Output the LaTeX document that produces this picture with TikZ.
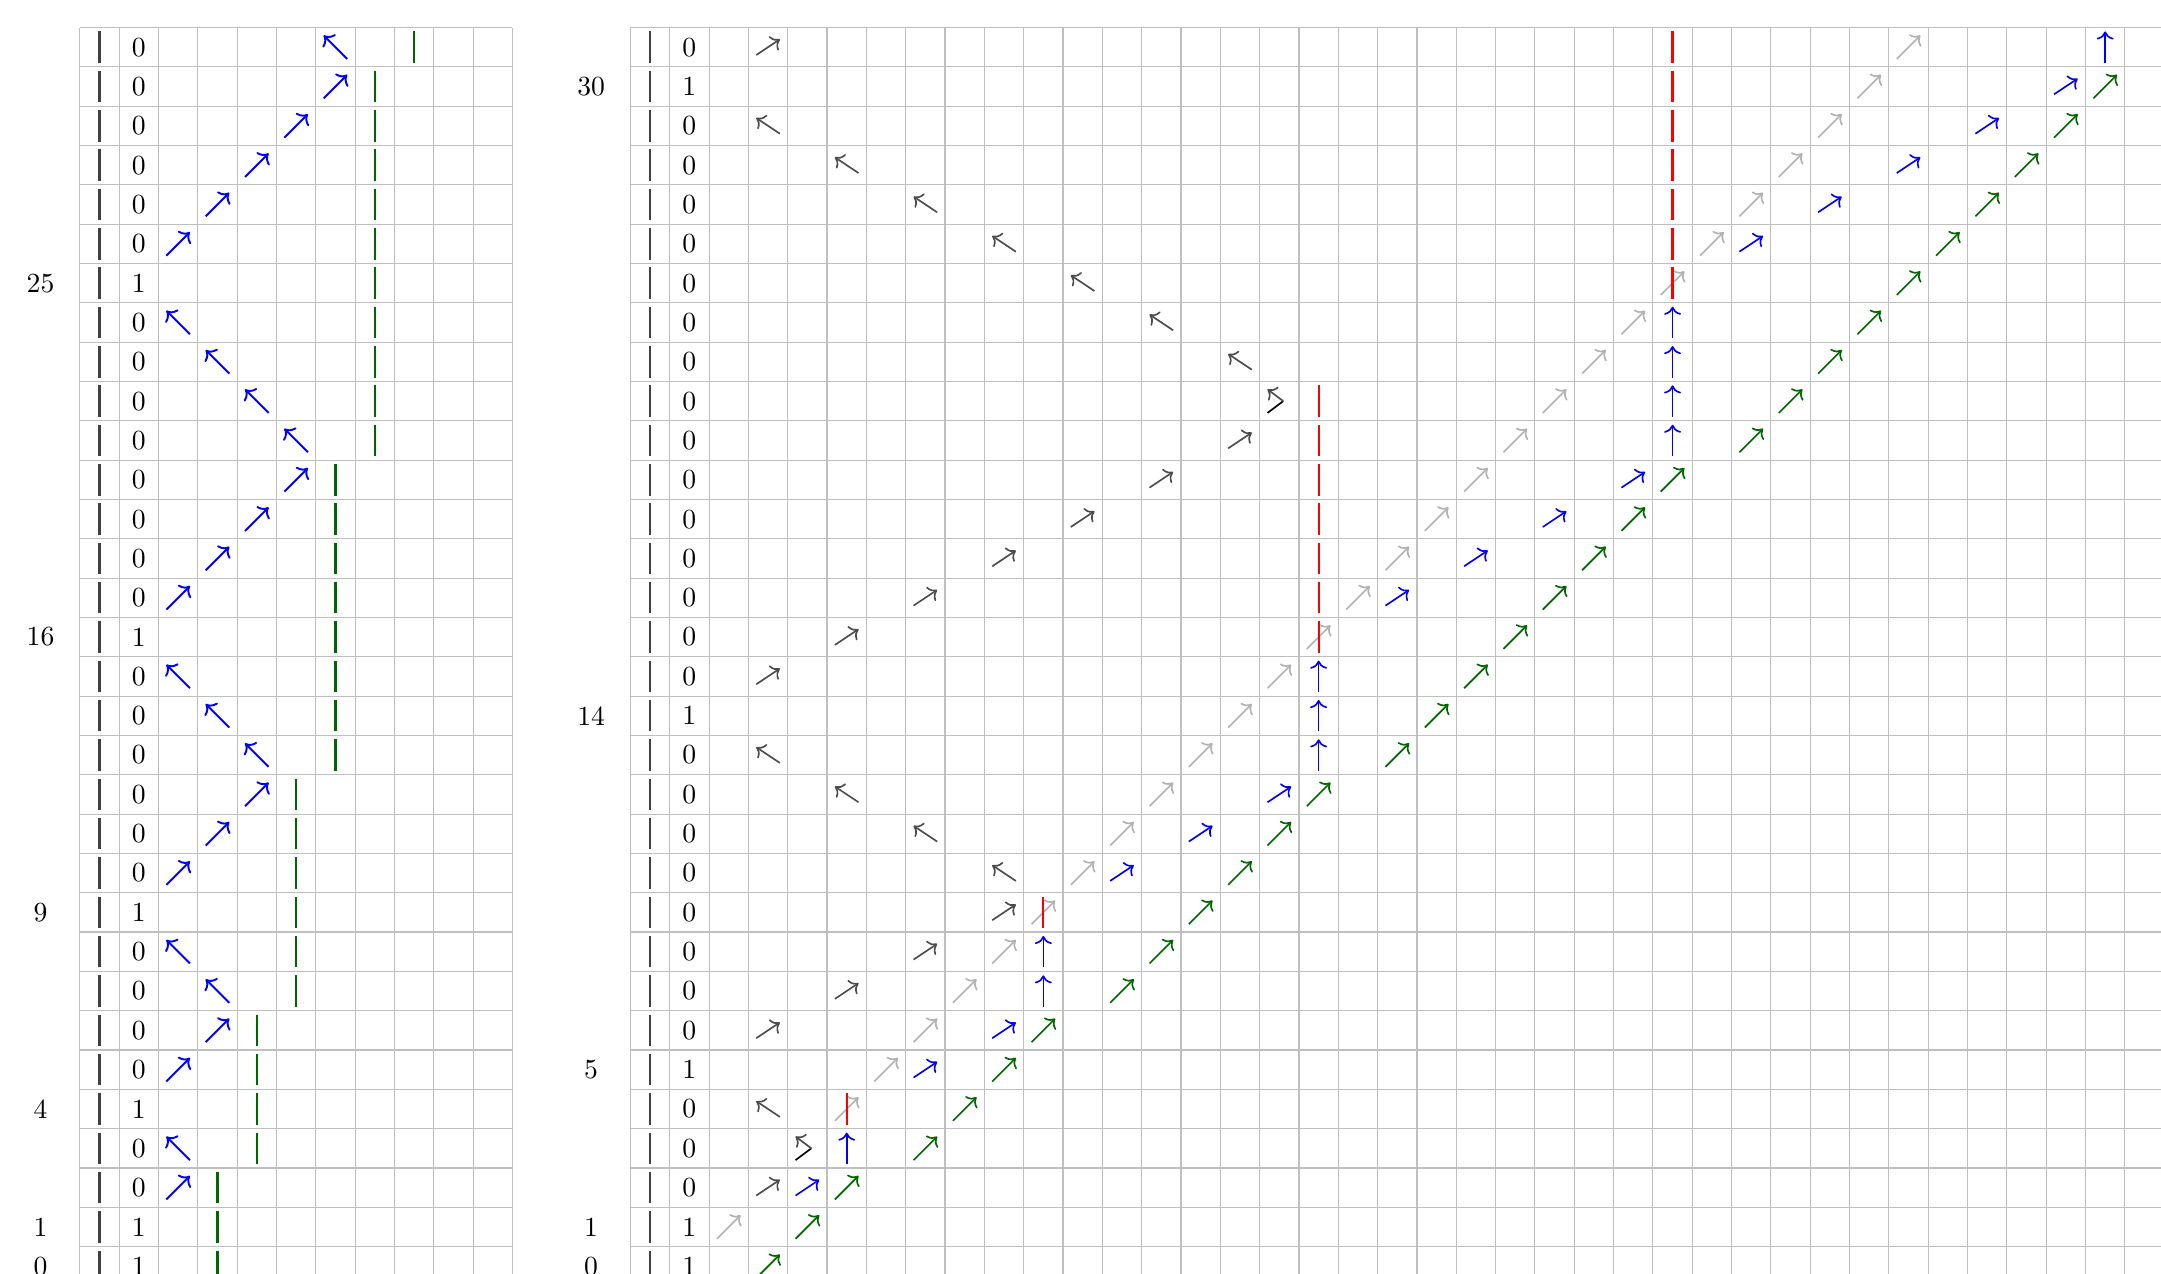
\documentclass[tikz,border=0pt]{standalone}
\usetikzlibrary{arrows.meta}

\begin{document}
\begin{tikzpicture}[
	x=0.5cm, y=0.5cm,
	cellgrid/.style={black!25, line width=0.4pt, step=0.5cm},
	wall/.style={black!75, thick},
	digit/.style={inner sep=0pt},
	rowlbl/.style={inner sep=0pt},
	lmove/.style={->, blue, line width=0.7pt},
	lbar/.style={green!40!black, thick},
	dmove/.style={->, black!70, semithick},
	gmove/.style={->, black!30, semithick},
	bmove/.style={->, blue, semithick},
	fmove/.style={->, green!40!black, semithick},
	rbar/.style={red, thick},
]

\useasboundingbox (-2.03,0.31) rectangle (52.92,32.70);
\clip (-2.03,0.31) rectangle (52.92,32.70);

% --- Levá mřížka ---
\draw[cellgrid] (0,0) grid (11,32);
\foreach \i in {0,...,31}
	\draw[wall] (0.5,\i+0.1) -- (0.5,\i+0.9);
\foreach \i in {2,3,5,6,7,8,10,11,12,13,14,15,17,18,19,20,21,22,23,24,26,27,28,29,30,31}
	\node[digit] (ld\i) at (1.5,\i+0.5) {0};
\foreach \i in {0,1,4,9,16,25} {
	\node[digit] (ld\i) at (1.5,\i+0.5) {1};
	\node[rowlbl] (ll\i) at (-1,\i+0.5) {\i};
}

% šipky vpravo nahoru
\foreach \c/\i in {6/30,5/29,4/28,3/27,2/26,5/20,4/19,3/18,2/17,4/12,3/11,2/10,3/6,2/5,2/2}
	\draw[lmove, shift={(\c,\i)}] (0.2,0.2) -- (0.8,0.8);
% šipky vlevo nahoru
\foreach \c/\i in {6/31,2/24,3/23,4/22,5/21,2/15,3/14,4/13,2/8,3/7,2/3}
	\draw[lmove, shift={(\c,\i)}] (0.8,0.2) -- (0.2,0.8);
% zelená hranice
\foreach \c/\i in {8/31,7/30,7/29,7/28,7/27,7/26,7/25,7/24,7/23,7/22,7/21,
	6/20,6/19,6/18,6/17,6/16,6/15,6/14,6/13,5/12,5/11,5/10,5/9,5/8,5/7,
	4/6,4/5,4/4,4/3,3/2,3/1,3/0}
	\draw[lbar, shift={(\c,\i)}] (0.5,0.1) -- (0.5,0.9);

% --- Pravá mřížka ---
\begin{scope}[shift={(14,0)}]
\draw[cellgrid] (0,0) grid (40,32);
\foreach \i in {0,...,31}
	\draw[wall] (0.5,\i+0.1) -- (0.5,\i+0.9);
\foreach \i in {2,3,4,6,7,8,9,10,11,12,13,15,16,17,18,19,20,21,22,23,24,25,26,27,28,29,31}
	\node[digit] (rd\i) at (1.5,\i+0.5) {0};
\foreach \i in {0,1,5,14,30} {
	\node[digit] (rd\i) at (1.5,\i+0.5) {1};
	\node[rowlbl] (rl\i) at (-1,\i+0.5) {\i};
}

% tmavé šipky
\foreach \c/\i in {3/31,15/21,13/20,11/19,9/18,7/17,5/16,3/15,9/9,7/8,5/7,3/6,3/2}
	\draw[dmove, shift={(\c,\i)}] (0.2,0.3) -- (0.8,0.7);
\foreach \c/\i in {3/29,5/28,7/27,9/26,11/25,13/24,15/23,3/13,5/12,7/11,9/10,3/4}
	\draw[dmove, shift={(\c,\i)}] (0.8,0.3) -- (0.2,0.7);
% odraz
\foreach \c/\i in {16/22,4/3} {
	\draw[black, semithick, shift={(\c,\i)}] (0.2,0.2) -- (0.6,0.5);
	\draw[dmove, shift={(\c,\i)}] (0.6,0.5) -- (0.2,0.8);
}

% světlé šipky
\draw[gmove, shift={(2,1)}] (0.2,0.2) -- (0.8,0.8);
\foreach \i in {4,...,31}
	\draw[gmove, shift={(\i+1,\i)}] (0.2,0.2) -- (0.8,0.8);

% modré šipky
\foreach \c/\i in {36/30,34/29,32/28,30/27,28/26,25/20,23/19,21/18,19/17,16/12,14/11,12/10,9/6,7/5,4/2}
	\draw[bmove, shift={(\c,\i)}] (0.2,0.3) -- (0.8,0.7);
\foreach \c/\i in {5/3,10/7,10/8,17/13,17/14,17/15,26/21,26/22,26/23,26/24,37/31}
	\draw[bmove, shift={(\c,\i)}] (0.5,0.1) -- (0.5,0.9);

% červené čáry
\foreach \c/\i in {5/4,10/9,17/16,17/17,17/18,17/19,17/20,17/21,17/22,
	26/25,26/26,26/27,26/28,26/29,26/30,26/31}
	\draw[rbar, shift={(\c,\i)}] (0.5,0.1) -- (0.5,0.9);

% zelené šipky
\foreach \c/\i in {3/0,4/1,5/2,7/3,8/4,9/5,10/6,12/7,13/8,14/9,15/10,16/11,17/12,
	19/13,20/14,21/15,22/16,23/17,24/18,25/19,26/20,
	28/21,29/22,30/23,31/24,32/25,33/26,34/27,35/28,36/29,37/30}
	\draw[fmove, shift={(\c,\i)}] (0.2,0.2) -- (0.8,0.8);
\end{scope}

\end{tikzpicture}
\end{document}
